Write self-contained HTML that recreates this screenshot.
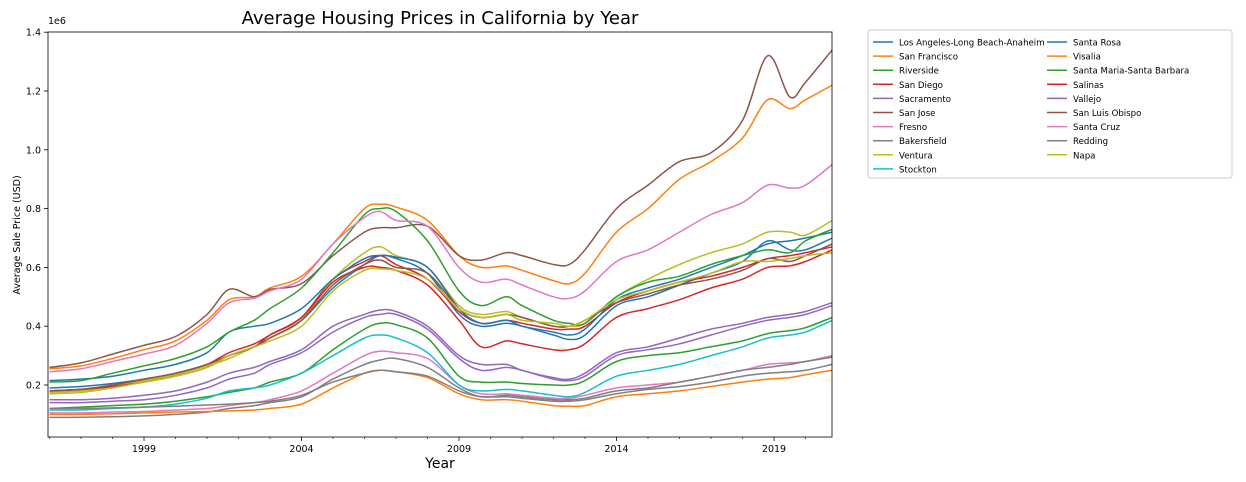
<!DOCTYPE html>
<html><head><meta charset="utf-8"><style>
body{margin:0;background:#fff;font-family:"Liberation Sans","DejaVu Sans",sans-serif}
svg text{font-family:"DejaVu Sans","Liberation Sans",sans-serif}
</style></head><body>
<svg id="chart" width="1246" height="477" xmlns="http://www.w3.org/2000/svg">
<rect width="1246" height="477" fill="#fff"/>
<text x="440" y="24" text-anchor="middle" font-size="18" fill="#000">Average Housing Prices in California by Year</text>
<text x="48" y="24" font-size="9.5">1e6</text>
<text transform="translate(20,235) rotate(-90)" text-anchor="middle" font-size="9.5">Average Sale Price (USD)</text>
<text x="440" y="468" text-anchor="middle" font-size="14">Year</text>
<g id="plot"></g>
<rect x="48" y="32" width="784" height="405" fill="none" stroke="#000" stroke-width="0.8"/>
<g id="legend"></g>
</svg>
<script>
const dates=[1996,1997,1998,1999,2000,2001,2001.7,2002.5,2003,2004,2005,2006,2006.5,2007,2008,2009,2009.7,2010.5,2011,2012,2012.5,2013,2014,2015,2016,2017,2018,2018.8,2019.5,2020,2020.85];
const seriesNames=["Los Angeles-Long Beach-Anaheim","San Francisco","Riverside","San Diego","Sacramento","San Jose","Fresno","Bakersfield","Ventura","Stockton","Santa Rosa","Visalia","Santa Maria-Santa Barbara","Salinas","Vallejo","San Luis Obispo","Santa Cruz","Redding","Napa"];
const colors=["#1f77b4","#ff7f0e","#2ca02c","#d62728","#9467bd","#8c564b","#e377c2","#7f7f7f","#bcbd22","#17becf"];
const losAngeles=[190,195,205,220,240,270,300,330,360,420,530,610,640,630,580,440,400,410,400,370,355,370,470,500,540,580,620,690,660,660,700];
const sanFrancisco=[255,265,290,320,350,420,490,500,530,570,680,800,815,805,760,640,600,605,590,555,545,580,720,800,900,960,1040,1170,1140,1170,1220];
const riverside=[120,125,130,135,145,160,175,190,210,240,320,390,410,405,360,230,210,210,205,200,200,215,280,300,310,330,350,375,385,395,430];
const sanDiego=[180,185,195,215,235,270,310,340,370,430,560,620,640,610,560,450,410,420,410,390,390,400,480,520,550,570,600,630,640,650,670];
const sacramento=[150,150,155,165,180,210,240,260,280,320,400,440,455,450,400,300,270,270,250,225,220,240,310,330,360,390,410,430,440,450,480];
const sanJose=[260,275,305,335,365,440,525,500,525,545,640,720,735,735,740,640,625,650,640,610,610,660,800,880,960,990,1100,1320,1180,1230,1340];
const fresno=[105,105,108,110,115,120,130,140,150,180,240,300,315,310,290,200,170,170,165,155,155,165,190,200,210,230,250,270,275,280,300];
const bakersfield=[90,90,92,95,100,108,120,130,140,160,220,270,285,290,260,190,160,165,160,150,150,155,180,190,210,230,250,260,270,280,295];
const ventura=[175,180,195,215,235,265,290,330,360,420,560,650,670,640,600,470,440,450,430,400,400,410,500,560,610,650,680,720,720,710,760];
const stockton=[115,115,120,125,135,155,180,190,200,240,300,360,370,360,310,200,180,185,180,165,160,175,230,250,270,300,330,360,370,380,420];
const santaRosa=[215,220,230,250,270,310,380,400,410,460,560,630,640,635,600,460,410,420,400,380,370,390,490,530,560,600,640,680,690,700,720];
const visalia=[100,100,102,105,108,110,112,115,120,135,190,240,250,245,225,170,150,150,145,130,128,130,160,170,180,195,210,220,225,235,250];
const santaMaria=[210,215,240,265,290,330,380,420,460,530,650,780,800,790,690,520,470,500,470,420,410,410,500,550,570,610,640,660,650,690,730];
const salinas=[180,185,195,210,230,260,300,330,370,430,550,600,600,590,540,420,330,350,340,320,320,340,430,460,490,530,560,600,605,620,660];
const vallejo=[140,140,145,150,165,190,220,240,270,310,380,430,440,440,390,290,250,260,250,220,215,230,300,320,340,370,400,420,430,440,470];
const sanLuisObispo=[180,185,200,220,240,270,300,330,360,420,540,610,625,600,580,460,430,440,430,400,400,420,480,510,540,560,590,630,620,640,680];
const santaCruz=[245,255,280,305,335,410,480,495,520,560,680,770,790,760,740,600,550,560,540,500,495,520,620,660,720,780,820,880,870,880,950];
const redding=[120,120,122,125,128,132,135,140,145,165,210,240,250,245,230,180,160,160,155,145,145,150,170,185,195,210,230,240,245,250,270];
const napa=[170,175,190,210,230,260,300,330,350,400,520,590,595,590,560,460,430,440,420,410,400,420,490,520,550,580,620,620,630,640,650];
const seriesValues=[losAngeles,sanFrancisco,riverside,sanDiego,sacramento,sanJose,fresno,bakersfield,ventura,stockton,santaRosa,visalia,santaMaria,salinas,vallejo,sanLuisObispo,santaCruz,redding,napa];
const xTicks=[1999,2004,2009,2014,2019];
const yTicks=[0.2,0.4,0.6,0.8,1.0,1.2,1.4];

const NS="http://www.w3.org/2000/svg";
function xs(d){return 144+(d-1999)*31.5;}
function ys(v){return 385-(v-200)*0.294;}
const plot=document.getElementById('plot');
function mk(t,a,p){const e=document.createElementNS(NS,t);for(const k in a)e.setAttribute(k,a[k]);(p||plot).appendChild(e);return e;}

xTicks.forEach(t=>{
  const x=xs(t);
  const l=mk('line',{x1:x,x2:x,y1:437,y2:441,stroke:'#000','stroke-width':0.8});
  
  
  const tx=mk('text',{x:x,y:452,'text-anchor':'middle','font-size':9.5});
  tx.textContent=t;
  
  
});
for(let y=1996;y<=2020;y++){if(xTicks.includes(y))continue;const x=xs(y);mk('line',{x1:x,x2:x,y1:437,y2:439,stroke:'#000','stroke-width':0.6});}
yTicks.forEach(t=>{
  const y=ys(t*1000);
  mk('line',{x1:44,x2:48,y1:y,y2:y,stroke:'#000','stroke-width':0.8});
  const tx=mk('text',{x:41,y:y+3.5,'text-anchor':'end','font-size':9.5});
  tx.textContent=t.toFixed(1);
  
  
});

function pathFor(vals){
  const p=vals.map((v,i)=>[xs(dates[i]),ys(v)]);
  let d='M'+p[0][0]+','+p[0][1];
  for(let i=0;i<p.length-1;i++){
    const p0=p[i-1]||p[i],p1=p[i],p2=p[i+1],p3=p[i+2]||p2;
    const c1=[p1[0]+(p2[0]-p0[0])/6,p1[1]+(p2[1]-p0[1])/6];
    const c2=[p2[0]-(p3[0]-p1[0])/6,p2[1]-(p3[1]-p1[1])/6];
    d+=' C'+c1[0].toFixed(1)+','+c1[1].toFixed(1)+' '+c2[0].toFixed(1)+','+c2[1].toFixed(1)+' '+p2[0].toFixed(1)+','+p2[1].toFixed(1);
  }
  return d;
}
seriesValues.forEach((vals,i)=>{
  const e=mk('path',{d:pathFor(vals),fill:'none',stroke:colors[i%10],'stroke-width':1.5,'stroke-linejoin':'round'});
  
  
});

const lg=document.getElementById('legend');
const box=mk('rect',{x:868,y:30,width:364,height:148,fill:'#fff',stroke:'#ccc','stroke-width':1,rx:2},lg);


seriesNames.forEach((n,i)=>{
  const col=i<10?0:1,row=i<10?i:i-10;
  const lx=col?1047:873, y=42+row*14.1;
  const g=mk('g',{},lg);
  
  
  mk('line',{x1:lx,x2:lx+20,y1:y,y2:y,stroke:colors[i%10],'stroke-width':1.5},g);
  const t=mk('text',{x:lx+26,y:y+3.5,'font-size':8.6},g);
  t.textContent=n;
});
</script>
</body></html>
